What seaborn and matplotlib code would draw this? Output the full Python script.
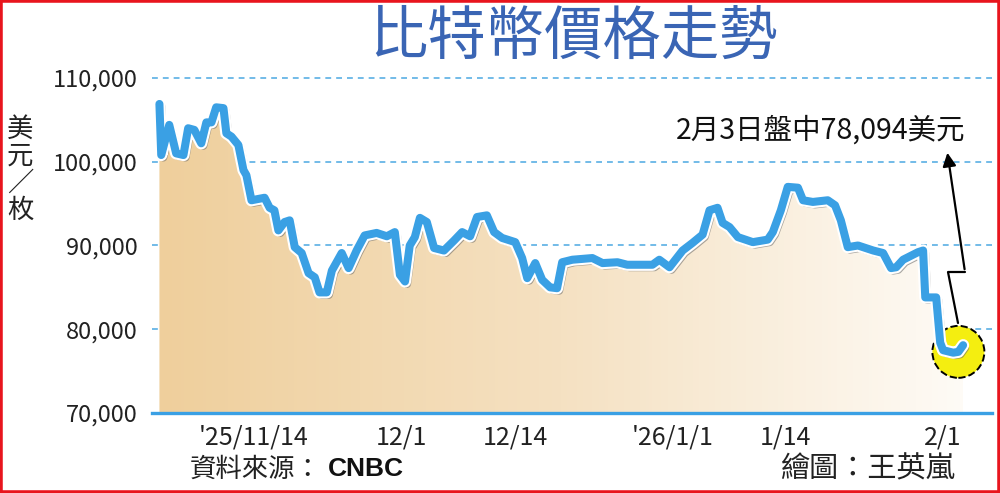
import numpy as np
import pandas as pd
import matplotlib
matplotlib.use("Agg")
import matplotlib.pyplot as plt
import matplotlib.dates as mdates
import matplotlib.patheffects as pe
from matplotlib.colors import LinearSegmentedColormap
from matplotlib.lines import Line2D
from matplotlib.patches import FancyArrowPatch, Rectangle
import seaborn as sns

# Bitcoin price (USD)
times = [
    "2025-11-03 06:00", "2025-11-03 11:00", "2025-11-04 09:00", "2025-11-05 04:00",
    "2025-11-06 00:00", "2025-11-06 13:00", "2025-11-07 06:00", "2025-11-08 01:00",
    "2025-11-08 15:00", "2025-11-09 05:00", "2025-11-09 18:00", "2025-11-10 14:00",
    "2025-11-10 22:00", "2025-11-11 12:00", "2025-11-12 07:00", "2025-11-12 21:00",
    "2025-11-13 05:00", "2025-11-13 19:00", "2025-11-15 07:00", "2025-11-15 21:00",
    "2025-11-16 10:00", "2025-11-16 21:00", "2025-11-17 14:00", "2025-11-18 04:00",
    "2025-11-18 18:00", "2025-11-19 13:00", "2025-11-20 08:00", "2025-11-21 01:00",
    "2025-11-21 14:00", "2025-11-22 10:00", "2025-11-23 00:00", "2025-11-24 03:00",
    "2025-11-24 22:00", "2025-11-25 20:00", "2025-11-26 18:00", "2025-11-28 03:00",
    "2025-11-29 07:00", "2025-11-30 05:00", "2025-11-30 19:00", "2025-12-01 09:00",
    "2025-12-01 22:00", "2025-12-02 12:00", "2025-12-03 02:00", "2025-12-03 21:00",
    "2025-12-04 17:00", "2025-12-05 20:00", "2025-12-07 00:00", "2025-12-07 22:00",
    "2025-12-08 20:00", "2025-12-09 15:00", "2025-12-10 18:00", "2025-12-11 14:00",
    "2025-12-12 12:00", "2025-12-14 00:00", "2025-12-14 19:00", "2025-12-15 09:00",
    "2025-12-16 07:00", "2025-12-17 02:00", "2025-12-18 00:00", "2025-12-18 19:00",
    "2025-12-19 09:00", "2025-12-20 13:00", "2025-12-22 20:00", "2025-12-24 00:00",
    "2025-12-25 17:00", "2025-12-26 20:00", "2025-12-29 17:00", "2025-12-30 12:00",
    "2025-12-31 16:00", "2026-01-02 04:00", "2026-01-03 07:00", "2026-01-04 11:00",
    "2026-01-05 06:00", "2026-01-06 04:00", "2026-01-06 18:00", "2026-01-07 13:00",
    "2026-01-08 12:00", "2026-01-10 05:00", "2026-01-11 22:00", "2026-01-12 12:00",
    "2026-01-13 10:00", "2026-01-14 05:00", "2026-01-15 09:00", "2026-01-15 23:00",
    "2026-01-17 02:00", "2026-01-18 19:00", "2026-01-19 15:00", "2026-01-20 07:00",
    "2026-01-21 02:00", "2026-01-22 06:00", "2026-01-24 00:00", "2026-01-25 03:00",
    "2026-01-26 01:00", "2026-01-26 15:00", "2026-01-27 10:00", "2026-01-29 03:00",
    "2026-01-29 17:00", "2026-01-29 23:00", "2026-01-31 05:00", "2026-01-31 16:00",
    "2026-02-01 00:00", "2026-02-02 04:00", "2026-02-02 18:00", "2026-02-03 07:00",
]
prices = [
    106900, 100800, 104400, 101000,
    100800, 104000, 103800, 102200,
    104700, 104700, 106500, 106400,
    103400, 103000, 102000, 99000,
    98400, 95400, 95700, 94500,
    94200, 91800, 92800, 93000,
    89800, 89100, 86700, 86200,
    84400, 84400, 87000, 89100,
    87300, 89400, 91200, 91500,
    91100, 91600, 86500, 85700,
    90000, 91000, 93300, 92800,
    89700, 89400, 90600, 91600,
    91100, 93400, 93600, 91600,
    90900, 90400, 88500, 86100,
    87900, 85900, 85000, 84900,
    88000, 88300, 88500, 87900,
    88000, 87700, 87700, 88300,
    87400, 89400, 90300, 91300,
    94200, 94500, 92700, 92200,
    91000, 90400, 90700, 91600,
    94200, 97000, 96900, 95400,
    95200, 95400, 94800, 93000,
    89800, 90000, 89400, 89100,
    87300, 87400, 88300, 89200,
    89400, 83800, 83800, 78400,
    77500, 77200, 77300, 78094,
]

tick_dates = ["2025-11-14", "2025-12-01", "2025-12-14", "2026-01-01", "2026-01-14", "2026-02-01"]
tick_labels = ["'25/11/14", "12/1", "12/14", "'26/1/1", "1/14", "2/1"]
y_ticks = [70000, 80000, 90000, 100000, 110000]

title = "比特幣價格走勢"
note = "2月3日盤中78,094美元"
source = "資料來源："
credit = "繪圖：王英嵐"

BLUE = "#3aa0e4"
GRID = "#5aafe4"

sns.set_style("white")
plt.rcParams["font.family"] = ["Noto Sans CJK TC", "DejaVu Sans"]

df = pd.DataFrame({"time": pd.to_datetime(times), "price": prices})
xnum = mdates.date2num(df["time"])

fig = plt.figure(figsize=(10, 4.93), dpi=100)
ax = fig.add_axes([0.152, 0.1623, 0.840, 0.6795])

# gradient area under the line
poly = ax.fill_between(df["time"], df["price"], y_ticks[0], facecolor="none", edgecolor="none")
cmap = LinearSegmentedColormap.from_list("fill", ["#efcf9c", "#f5e1c2", "#fefbf6"])
grad = np.linspace(0, 1, 256).reshape(1, -1)
im = ax.imshow(grad, extent=[xnum[0], xnum[-1], y_ticks[0], y_ticks[-1]],
               aspect="auto", cmap=cmap, origin="lower", zorder=1)
im.set_clip_path(poly.get_paths()[0], transform=ax.transData)

# highlight circle behind the last points
ax.scatter(df["time"].iloc[-2], df["price"].iloc[-2], s=1400, color="#f4ee10",
           edgecolors="black", linestyles="--", linewidths=1.4, zorder=2)

sns.lineplot(data=df, x="time", y="price", ax=ax, color=BLUE, linewidth=5.8, zorder=3)
ax.lines[-1].set_path_effects([
    pe.SimpleLineShadow(offset=(1.5, -1.8), shadow_color="#666666", alpha=0.55),
    pe.Stroke(linewidth=8.8, foreground="white"),
    pe.Normal(),
])

ax.set_ylim(y_ticks[0], y_ticks[-1])
start = mdates.date2num(pd.Timestamp("2025-11-03"))
ax.set_xlim(start - 0.6, start + 95.6)

ax.set_yticks(y_ticks)
ax.set_yticklabels([f"{v:,}" for v in y_ticks])
ax.set_xticks(pd.to_datetime(tick_dates))
ax.set_xticklabels(tick_labels)
ax.set_xlabel("")
ax.set_ylabel("")

for v in y_ticks[1:]:
    ax.axhline(v, color=GRID, lw=1.2, ls=(0, (3.5, 3)), zorder=0.5, clip_on=False)

for s in ["top", "right", "left"]:
    ax.spines[s].set_visible(False)
ax.spines["bottom"].set_color(BLUE)
ax.spines["bottom"].set_linewidth(2.4)
ax.spines["bottom"].set_zorder(4)

ax.tick_params(axis="y", length=5, width=1.3, color=GRID, pad=5.5, labelsize=17, labelcolor="#222222")
ax.tick_params(axis="x", length=5, width=1.5, color=BLUE, pad=3, labelsize=18, labelcolor="#222222")

# texts
fig.text(0.5735, 1 - 37 / 493, title, fontsize=42, fontweight="medium", color="#3a65b4",
         ha="center", va="center")
fig.text(0.020, 1 - 170 / 493, "美\n元\n／\n枚", fontsize=19, ha="center", va="center",
         linespacing=1.0, color="#222222")
fig.text(0.965, 1 - 131 / 493, note, fontsize=20.5, ha="right", va="center", color="#111111")
fig.text(0.190, 1 - 469 / 493, source, fontsize=19, ha="left", va="center", color="#222222")
fig.text(0.328, 1 - 469 / 493, "CNBC", fontsize=19, fontweight="bold", family="Liberation Sans",
         ha="left", va="center", color="#111111")
fig.text(0.955, 1 - 469 / 493, credit, fontsize=21, ha="right", va="center", color="#222222")

# callout arrow
def fp(x, y):
    return (x / 1000, 1 - y / 493)

pts = [fp(958, 323), fp(948, 272), fp(965, 272)]
fig.add_artist(Line2D([p[0] for p in pts], [p[1] for p in pts], color="black", lw=1.6,
                      transform=fig.transFigure))
fig.add_artist(FancyArrowPatch(fp(965, 272), fp(947, 150), arrowstyle="-|>", mutation_scale=20,
                               color="black", lw=1.6, transform=fig.transFigure))

# red frame
fig.add_artist(Rectangle((0, 0), 1, 1, transform=fig.transFigure, fill=False,
                         edgecolor="#e8151d", lw=4))

fig.savefig("out.png", dpi=100)
